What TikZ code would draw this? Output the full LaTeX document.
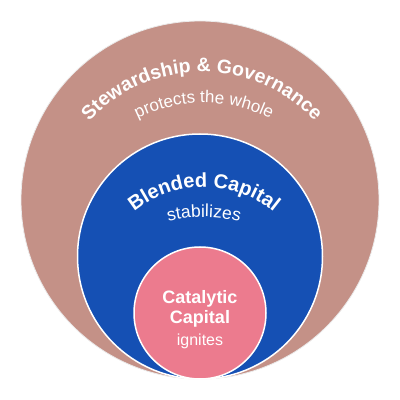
\documentclass[tikz,border=0pt]{standalone}
\usepackage{fontspec}
\setmainfont{Liberation Sans}
\setsansfont{Liberation Sans}
\usetikzlibrary{decorations.text,calc}
\definecolor{outerc}{RGB}{196,145,135}
\definecolor{bluec}{RGB}{21,80,180}
\definecolor{pinkc}{RGB}{236,123,142}
\tikzset{
  ring/.style={circle, inner sep=0pt, outer sep=0pt},
  curvetext/.style={decorate, decoration={text along path, text align=center, text color=white, text={#1}}},
  plain/.style={text=white, anchor=base, inner sep=0pt}
}
\begin{document}
\begin{tikzpicture}[x=1pt,y=1pt]
\useasboundingbox (0,0) rectangle (400,400);
\node[ring, minimum size=358pt, fill=outerc, draw=black!8, line width=0.8pt] (outer) at (200,200) {};
\node[ring, minimum size=245pt, fill=bluec, draw=white, line width=1.5pt] (blended) at (200,143.5) {};
\node[ring, minimum size=132pt, fill=pinkc, draw=white, line width=1.5pt] (catalytic) at (200,87) {};
% curved texts
\path[curvetext={|\bfseries\fontsize{19.5}{20}\selectfont|Stewardship {\&} Governance}]
  ($(202,175)+(160:153)$) arc[start angle=160, end angle=20, radius=153];
\path[curvetext={|\fontsize{17}{18}\selectfont|protects the whole}]
  ($(204,149)+(160:148)$) arc[start angle=160, end angle=20, radius=148];
\path[curvetext={|\bfseries\fontsize{20}{21}\selectfont|Blended Capital}]
  ($(204,103)+(160:110)$) arc[start angle=160, end angle=20, radius=110];
\path[curvetext={|\fontsize{17.5}{18}\selectfont|stabilizes}]
  ($(204,44)+(140:139)$) arc[start angle=140, end angle=40, radius=139];
% inner texts
\node[plain, font=\bfseries\fontsize{18}{19}\selectfont] (cat1) at (200,96) {Catalytic};
\node[plain, font=\bfseries\fontsize{18}{19}\selectfont] (cat2) at (200,77) {Capital};
\node[plain, font=\fontsize{16}{17}\selectfont] (ign) at (200,54) {ignites};
\end{tikzpicture}
\end{document}
